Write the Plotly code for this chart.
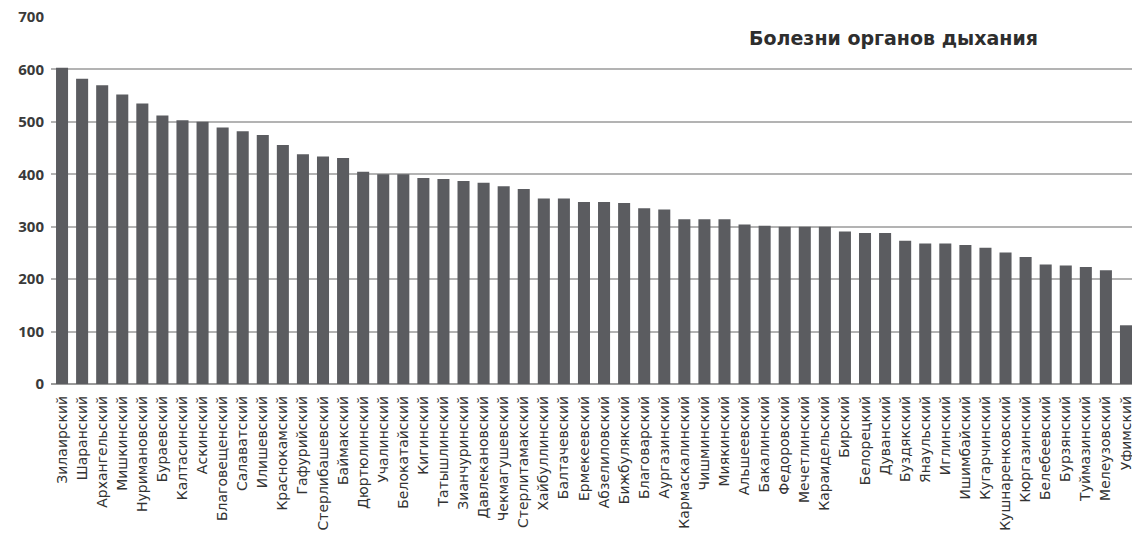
import plotly.graph_objects as go

districts = [
    "Зилаирский", "Шаранский", "Архангельский", "Мишкинский", "Нуримановский",
    "Бураевский", "Калтасинский", "Аскинский", "Благовещенский", "Салаватский",
    "Илишевский", "Краснокамский", "Гафурийский", "Стерлибашевский", "Баймакский",
    "Дюртюлинский", "Учалинский", "Белокатайский", "Кигинский", "Татышлинский",
    "Зианчуринский", "Давлекановский", "Чекмагушевский", "Стерлитамакский", "Хайбуллинский",
    "Балтачевский", "Ермекеевский", "Абзелиловский", "Бижбулякский", "Благоварский",
    "Аургазинский", "Кармаскалинский", "Чишминский", "Миякинский", "Альшеевский",
    "Бакалинский", "Федоровский", "Мечетлинский", "Караидельский", "Бирский",
    "Белорецкий", "Дуванский", "Буздякский", "Янаульский", "Иглинский",
    "Ишимбайский", "Кугарчинский", "Кушнаренковский", "Кюргазинский", "Белебеевский",
    "Бурзянский", "Туймазинский", "Мелеузовский", "Уфимский",
]
values = [
    603, 582, 570, 552, 535,
    512, 503, 500, 489, 482,
    475, 456, 438, 434, 431,
    405, 400, 400, 393, 391,
    387, 384, 377, 372, 354,
    354, 347, 347, 345, 335,
    333, 314, 314, 314, 304,
    302, 300, 300, 300, 291,
    288, 288, 273, 268, 268,
    265, 260, 251, 242, 228,
    226, 223, 217, 112,
]
y_ticks = [0, 100, 200, 300, 400, 500, 600, 700]
title_text = "Болезни органов дыхания"

fig = go.Figure(
    go.Bar(
        x=districts,
        y=values,
        marker=dict(color="#5b5c60", line=dict(width=0)),
    )
)

fig.add_annotation(
    text=title_text,
    xref="paper", yref="y",
    x=0.779, y=660,
    xanchor="center", yanchor="middle",
    showarrow=False,
    font=dict(family="DejaVu Sans", size=19, color="#2e2e2e", weight="bold"),
)

fig.update_layout(
    width=1132, height=533,
    margin=dict(l=51, r=0, t=17, b=149),
    paper_bgcolor="white", plot_bgcolor="white",
    bargap=0.4,
    showlegend=False,
    xaxis=dict(
        range=[-0.55, 53.3],
        tickangle=-90,
        tickfont=dict(family="DejaVu Sans", size=14, color="#333333"),
        showgrid=False,
        showline=False,
        ticks="",
        ticklabelstandoff=8,
        automargin=False,
    ),
    yaxis=dict(
        range=[0, 700],
        tickvals=y_ticks,
        tickfont=dict(family="Open Sans", size=15, color="#3a3a3a", weight="bold"),
        showgrid=True,
        gridcolor="#b3b3b3",
        gridwidth=1.5,
        zeroline=True,
        zerolinecolor="#9a9a9a",
        zerolinewidth=2,
        ticks="",
        ticklabelstandoff=6,
        automargin=False,
    ),
)

fig.write_html(
    "out.html",
    config={"displayModeBar": False},
    post_script="document.body.style.margin='0';document.body.style.overflow='hidden';",
)
